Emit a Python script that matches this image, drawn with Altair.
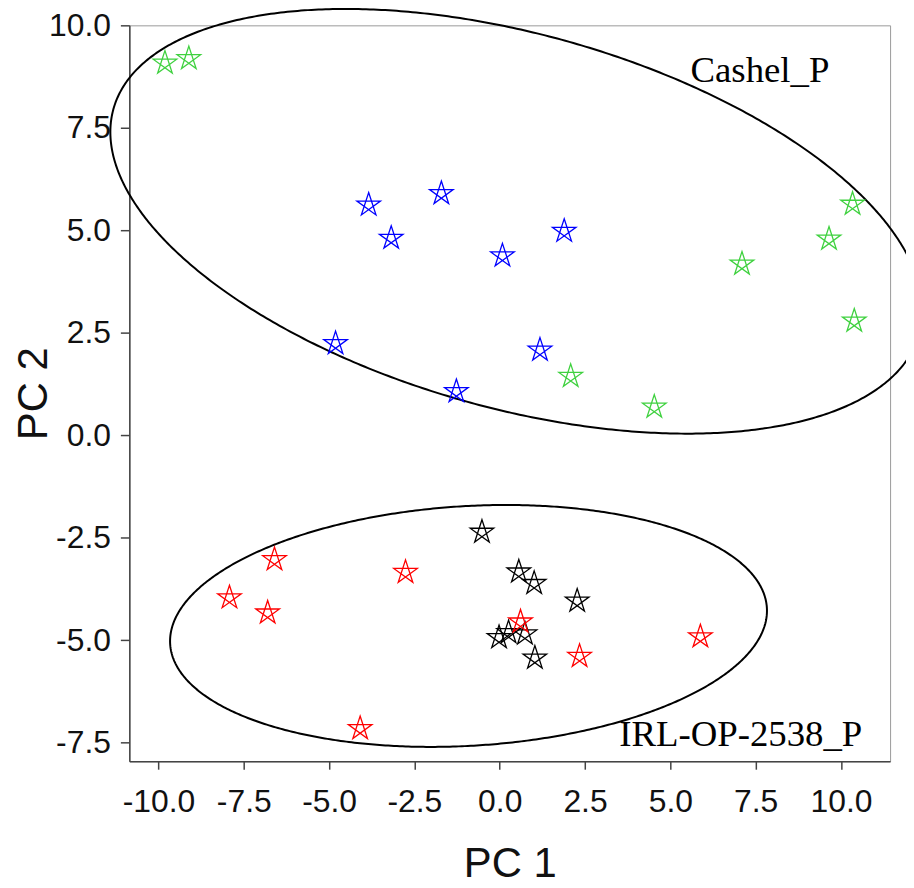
import altair as alt
import pandas as pd

# ---- data ----
green_x = [-9.81, -9.11, 10.34, 9.65, 7.10, 10.39, 4.53, 2.08]
green_y = [9.08, 9.19, 5.64, 4.79, 4.18, 2.79, 0.69, 1.44]
blue_x = [-3.84, -1.71, -3.18, 0.08, 1.89, -4.81, 1.18, -1.27]
blue_y = [5.62, 5.90, 4.81, 4.38, 4.98, 2.24, 2.08, 1.07]
black_x = [-0.52, 0.56, 1.01, 2.27, -0.02, 0.26, 0.74, 1.03]
black_y = [-2.36, -3.33, -3.61, -4.04, -4.93, -4.81, -4.84, -5.43]
red_x = [-6.60, -7.92, -6.80, -2.76, -4.09, 0.61, 2.34, 5.88]
red_y = [-3.03, -3.96, -4.33, -3.34, -7.15, -4.55, -5.39, -4.91]

groups = ["G1", "G2", "G3", "G4"]
group_colors = ["#3FD13F", "#0000FF", "#000000", "#FF0000"]

# ellipse parameters: centre and shape (x = cx + ax*cos t ; y = cy + bx*cos t + by*sin t)
ell_names = ["Cashel_P", "IRL-OP-2538_P"]
ell_cx = [0.49, -0.914]
ell_cy = [5.22, -4.65]
ell_ax = [11.9, 8.746]
ell_bx = [-2.177, 0.371]
ell_by = [4.70, 2.927]

label_text = ["Cashel_P", "IRL-OP-2538_P"]
label_x = [5.59, 3.50]
label_y = [8.61, -7.59]

x_ticks = [-10.0, -7.5, -5.0, -2.5, 0.0, 2.5, 5.0, 7.5, 10.0]
y_ticks = [-7.5, -5.0, -2.5, 0.0, 2.5, 5.0, 7.5, 10.0]

# ---- build tables ----
rows = []
for g, xs, ys in zip(groups, [green_x, blue_x, black_x, red_x], [green_y, blue_y, black_y, red_y]):
    for xv, yv in zip(xs, ys):
        rows.append({"group": g, "x": xv, "y": yv})
pts = pd.DataFrame(rows)

labels = pd.DataFrame({"text": label_text, "x": label_x, "y": label_y})

xscale = alt.Scale(domain=[-10.854, 11.44], nice=False, zero=False)
yscale = alt.Scale(domain=[-7.95, 10.0], nice=False, zero=False)

lbl = "(datum.value < 0 ? '-' : '') + format(abs(datum.value), '.1f')"

xaxis = alt.Axis(values=x_ticks, labelExpr=lbl, title="PC 1", grid=False,
                 tickSize=8, labelPadding=18, titleFontSize=42,
                 titleX=382.5, titleY=83)
yaxis = alt.Axis(values=y_ticks, labelExpr=lbl, title="PC 2", grid=False,
                 tickSize=9, labelPadding=10, titleFontSize=42,
                 titleX=-74, titleY=370)

star = "M0,-1 L0.588,0.809 L-0.951,-0.309 L0.951,-0.309 L-0.588,0.809 Z"

layers = []
for i in range(len(ell_names)):
    e = (
        alt.Chart(alt.sequence(0, 6.31, 0.01, as_="t"))
        .transform_calculate(
            ex=f"{ell_cx[i]} + {ell_ax[i]}*cos(datum.t)",
            ey=f"{ell_cy[i]} + {ell_bx[i]}*cos(datum.t) + {ell_by[i]}*sin(datum.t)",
        )
        .mark_line(color="black", strokeWidth=2)
        .encode(
            x=alt.X("ex:Q", scale=xscale, axis=xaxis),
            y=alt.Y("ey:Q", scale=yscale, axis=yaxis),
            order="t:Q",
        )
    )
    layers.append(e)

points = (
    alt.Chart(pts)
    .mark_point(shape=star, filled=False, size=620, strokeWidth=1.3, opacity=1)
    .encode(
        x=alt.X("x:Q", scale=xscale, axis=xaxis),
        y=alt.Y("y:Q", scale=yscale, axis=yaxis),
        color=alt.Color("group:N", scale=alt.Scale(domain=groups, range=group_colors), legend=None),
    )
)

text = (
    alt.Chart(labels)
    .mark_text(font="Liberation Serif", fontSize=37, align="left", baseline="alphabetic", color="black")
    .encode(
        x=alt.X("x:Q", scale=xscale, axis=xaxis),
        y=alt.Y("y:Q", scale=yscale, axis=yaxis),
        text="text:N",
    )
)

chart = (
    alt.layer(*layers, points, text)
    .properties(
        width=765,
        height=740,
        autosize=alt.AutoSizeParams(type="none"),
        padding={"left": 122, "top": 15, "right": 16, "bottom": 117},
        background="white",
    )
    .configure_view(stroke="#999999", strokeWidth=1)
    .configure_axis(
        domainColor="#444444", domainWidth=1.5, tickColor="#444444", tickWidth=1.5,
        labelFont="Liberation Sans", labelFontSize=32, labelColor="#111111",
        titleFont="Liberation Sans", titleFontWeight="normal", titleColor="#111111",
    )
)

chart.save("out.html", embed_options={"renderer": "svg", "actions": False})
